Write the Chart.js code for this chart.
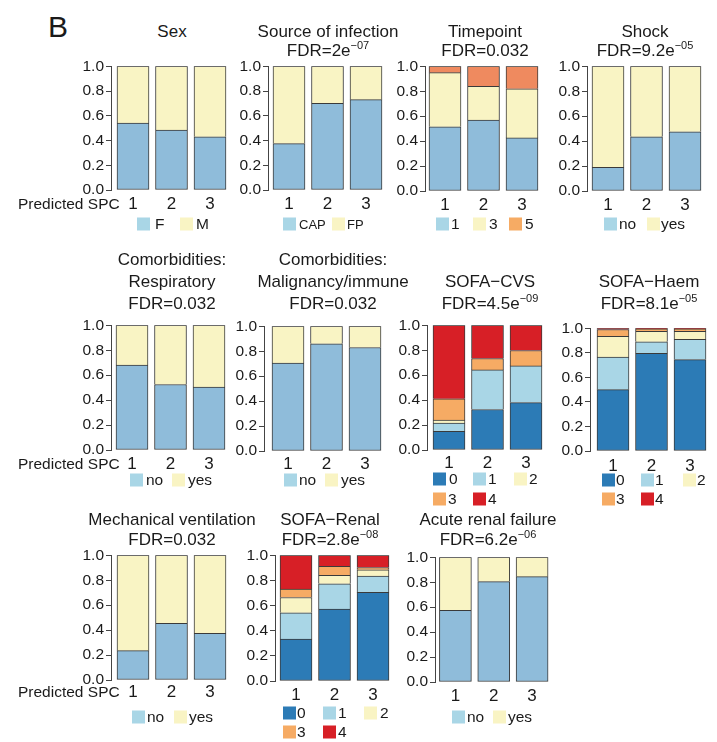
<!DOCTYPE html>
<html>
<head>
<meta charset="utf-8">
<script src="https://cdn.jsdelivr.net/npm/chart.js@4.4.0/dist/chart.umd.min.js"></script>
<style>
  html, body { margin: 0; padding: 0; background: #fff; }
  #fig { position: relative; width: 717px; height: 742px; overflow: hidden;
         font-family: "Liberation Sans", Arial, sans-serif; color: #1a1a1a; }
  .t { position: absolute; white-space: nowrap; line-height: 1; transform: translate(-50%, -50%); font-size: 17px; }
  .l { position: absolute; white-space: nowrap; line-height: 1; transform: translateY(-50%); font-size: 15.5px; }
  .sw { position: absolute; width: 13px; height: 13px; transform: translateY(-50%); }
  .sup { font-size: 11px; position: relative; top: -7px; }
  canvas { position: absolute; }
</style>
</head>
<body>
<div id="fig"></div>
<script>
// ---------- data (proportions per predicted SPC) ----------
const groups = [1, 2, 3];

const sexCats = ["F", "M"];
const sexF = [0.54, 0.485, 0.43];
const sexM = [0.46, 0.515, 0.57];

const infCats = ["CAP", "FP"];
const infCAP = [0.375, 0.70, 0.73];
const infFP = [0.625, 0.30, 0.27];

const timeCats = ["1", "3", "5"];
const time1 = [0.515, 0.568, 0.426];
const time3 = [0.434, 0.272, 0.394];
const time5 = [0.051, 0.160, 0.180];

const ynCats = ["no", "yes"];
const shockNo = [0.19, 0.435, 0.475];
const shockYes = [0.81, 0.565, 0.525];
const respNo = [0.68, 0.525, 0.505];
const respYes = [0.32, 0.475, 0.495];
const maligNo = [0.705, 0.86, 0.83];
const maligYes = [0.295, 0.14, 0.17];
const mechNo = [0.235, 0.455, 0.375];
const mechYes = [0.765, 0.545, 0.625];
const arfNo = [0.575, 0.805, 0.845];
const arfYes = [0.425, 0.195, 0.155];

const sofaCats = ["0", "1", "2", "3", "4"];
const cvs0 = [0.15, 0.325, 0.38];
const cvs1 = [0.065, 0.317, 0.294];
const cvs2 = [0.025, 0, 0];
const cvs3 = [0.17, 0.092, 0.124];
const cvs4 = [0.59, 0.266, 0.202];
const haem0 = [0.50, 0.795, 0.745];
const haem1 = [0.265, 0.095, 0.165];
const haem2 = [0.17, 0.085, 0.065];
const haem3 = [0.055, 0.02, 0.02];
const haem4 = [0.01, 0.005, 0.005];
const renal0 = [0.333, 0.572, 0.705];
const renal1 = [0.21, 0.202, 0.13];
const renal2 = [0.121, 0.066, 0.05];
const renal3 = [0.068, 0.073, 0.018];
const renal4 = [0.268, 0.087, 0.097];

const yTicks = [0, 0.2, 0.4, 0.6, 0.8, 1.0];

// ---------- colours ----------
const BLUE = "#8fbcda", YEL = "#f9f4c4", ORA = "#ef8a5f";
const DBLUE = "#2c7bb6", LBLUE = "#a9d6e6", ORL = "#f6ab64", RED = "#d71f26";
const sofaBar = [DBLUE, LBLUE, YEL, ORL, RED];

// ---------- panels ----------
const STEP = 38.5, BAR_W = 32, Y_W = 40, PAD_T = 10, X_H = 30;

const panels = [
  { title: ["Sex"], tx: 172, ty: [31], axisX: 111, off: 6, top: 65, bottom: 190, xl: 204, spc: true,
    series: [sexF, sexM], colors: [BLUE, YEL], cats: sexCats, sw: [LBLUE, YEL],
    leg: [[137, 155, 224], [180, 196, 224]] },
  { title: ["Source of infection", "FDR=2e<span class='sup'>\u221207</span>"], tx: 328, ty: [31, 50],
    axisX: 268, off: 5, top: 65, bottom: 190, xl: 204,
    series: [infCAP, infFP], colors: [BLUE, YEL], cats: infCats, sw: [LBLUE, YEL], legSize: 13,
    leg: [[283, 299, 224], [332, 347, 224]] },
  { title: ["Timepoint", "FDR=0.032"], tx: 485, ty: [31, 50], axisX: 425, off: 4, top: 64.5, bottom: 190, xl: 204,
    series: [time1, time3, time5], colors: [BLUE, YEL, ORA], cats: timeCats, sw: [LBLUE, YEL, ORL],
    leg: [[436, 451, 224], [473, 489, 224], [509, 525, 224]] },
  { title: ["Shock", "FDR=9.2e<span class='sup'>\u221205</span>"], tx: 645, ty: [31, 50], axisX: 587, off: 5, top: 64.5, bottom: 190, xl: 204,
    series: [shockNo, shockYes], colors: [BLUE, YEL], cats: ynCats, sw: [LBLUE, YEL],
    leg: [[604, 619, 224], [647, 661, 224]] },

  { title: ["Comorbidities:", "Respiratory", "FDR=0.032"], tx: 172, ty: [259, 281, 303], axisX: 111, off: 5, top: 323.5, bottom: 449.5, xl: 464, spc: true,
    series: [respNo, respYes], colors: [BLUE, YEL], cats: ynCats, sw: [LBLUE, YEL],
    leg: [[130, 146, 480], [172, 188, 480]] },
  { title: ["Comorbidities:", "Malignancy/immune", "FDR=0.032"], tx: 333, ty: [259, 281, 303], axisX: 264, off: 8, top: 325, bottom: 451, xl: 464,
    series: [maligNo, maligYes], colors: [BLUE, YEL], cats: ynCats, sw: [LBLUE, YEL],
    leg: [[284, 299, 480], [325, 341, 480]] },
  { title: ["SOFA\u2212CVS", "FDR=4.5e<span class='sup'>\u221209</span>"], tx: 490, ty: [281, 303], axisX: 427, off: 6, top: 323.5, bottom: 449.5, xl: 463,
    series: [cvs0, cvs1, cvs2, cvs3, cvs4], colors: sofaBar, cats: sofaCats, sw: [DBLUE, LBLUE, YEL, ORL, RED],
    leg: [[433, 449, 479], [473, 488, 479], [514, 529, 479], [433, 448, 499], [473, 488, 499]] },
  { title: ["SOFA\u2212Haem", "FDR=8.1e<span class='sup'>\u221205</span>"], tx: 649, ty: [281, 303], axisX: 590, off: 7, top: 327, bottom: 451, xl: 466,
    series: [haem0, haem1, haem2, haem3, haem4], colors: sofaBar, cats: sofaCats, sw: [DBLUE, LBLUE, YEL, ORL, RED],
    leg: [[602, 616, 480], [641, 655, 480], [683, 697, 480], [602, 616, 499], [641, 655, 499]] },

  { title: ["Mechanical ventilation", "FDR=0.032"], tx: 172, ty: [519, 539], axisX: 111, off: 6, top: 553.5, bottom: 679.5, xl: 692, spc: true,
    series: [mechNo, mechYes], colors: [BLUE, YEL], cats: ynCats, sw: [LBLUE, YEL],
    leg: [[132, 147, 717], [174, 189, 717]] },
  { title: ["SOFA\u2212Renal", "FDR=2.8e<span class='sup'>\u221208</span>"], tx: 330, ty: [519, 539], axisX: 275, off: 5, top: 553.5, bottom: 680, xl: 694,
    series: [renal0, renal1, renal2, renal3, renal4], colors: sofaBar, cats: sofaCats, sw: [DBLUE, LBLUE, YEL, ORL, RED],
    leg: [[283, 297, 713], [323, 338, 713], [364, 380, 713], [283, 297, 732], [323, 338, 732]] },
  { title: ["Acute renal failure", "FDR=6.2e<span class='sup'>\u221206</span>"], tx: 488, ty: [519, 539], axisX: 435, off: 4.5, top: 556, bottom: 682, xl: 696,
    series: [arfNo, arfYes], colors: [BLUE, YEL], cats: ynCats, sw: [LBLUE, YEL],
    leg: [[452, 467, 717], [493, 508, 717]] }
];

Chart.defaults.font.family = '"Liberation Sans", Arial, sans-serif';
Chart.defaults.color = "#1a1a1a";

const fig = document.getElementById("fig");

function put(cls, html, x, y, extra) {
  const d = document.createElement("div");
  d.className = cls;
  d.innerHTML = html;
  d.style.left = x + "px";
  d.style.top = y + "px";
  if (extra) Object.assign(d.style, extra);
  fig.appendChild(d);
  return d;
}

// panel letter
put("l", "B", 48, 27, { fontSize: "30px" });

panels.forEach((p) => {
  const W = p.off + 2 * STEP + BAR_W + 3;
  const H = p.bottom - p.top;
  const cv = document.createElement("canvas");
  cv.width = Y_W + W + 6;
  cv.height = Math.round(PAD_T + H + X_H);
  cv.style.left = (p.axisX - Y_W) + "px";
  cv.style.top = (p.top - PAD_T) + "px";
  fig.appendChild(cv);

  const xMin = 1 - (p.off + BAR_W / 2) / STEP;
  const xMax = xMin + W / STEP;
  // label gap below the plot, so tick numbers sit where the reference has them
  const xPad = Math.max(0, (p.xl - p.bottom) - 10);

  new Chart(cv, {
    type: "bar",
    data: {
      datasets: p.series.map((s, k) => ({
        label: p.cats[k],
        data: groups.map((g, i) => ({ x: g, y: s[i] })),
        backgroundColor: p.colors[k],
        borderColor: "#3a3a3a",
        borderWidth: 1,
        borderSkipped: k === 0 ? false : "start",
        barThickness: BAR_W
      }))
    },
    options: {
      responsive: false,
      animation: false,
      layout: { padding: { top: PAD_T, right: 6, left: 0, bottom: 0 } },
      plugins: { legend: { display: false }, tooltip: { enabled: false } },
      scales: {
        x: {
          type: "linear", stacked: true, min: xMin, max: xMax, offset: false,
          grid: { display: false, drawTicks: false, tickLength: 0 }, border: { display: false },
          afterBuildTicks: (s) => { s.ticks = groups.map((v) => ({ value: v })); },
          afterFit: (s) => { s.height = X_H; },
          ticks: { padding: xPad, autoSkip: false, maxRotation: 0, font: { size: 17 }, callback: (v) => String(v) }
        },
        y: {
          stacked: true, min: 0, max: 1,
          afterBuildTicks: (s) => { s.ticks = yTicks.map((v) => ({ value: v })); },
          afterFit: (s) => { s.width = Y_W; },
          ticks: { padding: 2, font: { size: 15.5 }, callback: (v) => v.toFixed(1) },
          grid: { drawOnChartArea: false, drawTicks: true, tickLength: 5, color: "#444" },
          border: { display: true, color: "#444", width: 1 }
        }
      }
    }
  });

  // titles
  p.title.forEach((line, i) => put("t", line, p.tx, p.ty[i]));

  // x caption for first column
  if (p.spc) put("l", "Predicted SPC", 18, p.xl, { fontSize: "15.5px" });

  // legend
  p.leg.forEach((pos, k) => {
    const s = put("sw", "", pos[0], pos[2]);
    s.style.background = p.sw[k];
    put("l", p.cats[k], pos[1], pos[2], p.legSize ? { fontSize: p.legSize + "px" } : null);
  });
});
</script>
</body>
</html>
